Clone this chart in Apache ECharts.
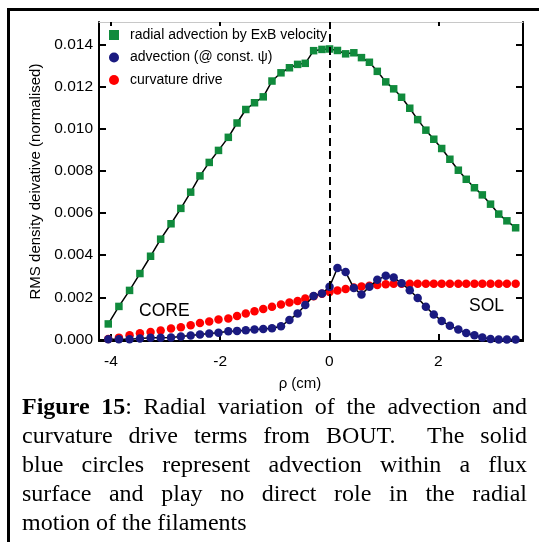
<!DOCTYPE html>
<html>
<head>
<meta charset="utf-8">
<script src="https://cdn.jsdelivr.net/npm/echarts@6/dist/echarts.min.js"></script>
<style>
  html, body { margin: 0; padding: 0; background: #fff; overflow: hidden; }
  #chart { position: absolute; left: 0; top: 0; width: 539px; height: 542px; }
  #caption { position: absolute; left: 22px; top: 392px; width: 505px;
    font-family: 'Liberation Serif', 'Times New Roman', serif; font-size: 24px; line-height: 29px; color: #000; }
  #caption div { text-align: justify; text-align-last: justify; white-space: nowrap; }
  #caption div.last { text-align-last: left; }
</style>
</head>
<body>
<div id="chart"></div>
<div id="caption">
  <div><b>Figure 15</b>: Radial variation of the advection and</div>
  <div>curvature drive terms from BOUT.&nbsp; The solid</div>
  <div>blue circles represent advection within a flux</div>
  <div>surface and play no direct role in the radial</div>
  <div class="last">motion of the filaments</div>
</div>
<script>
// rho (cm) sample positions shared by all series
const rho = [-4.05, -3.855, -3.66, -3.47, -3.275, -3.09, -2.90, -2.72, -2.54, -2.37, -2.20, -2.03,
  -1.85, -1.69, -1.53, -1.37, -1.21, -1.05, -0.885, -0.73, -0.58, -0.44, -0.287, -0.134,
  0.005, 0.15, 0.30, 0.45, 0.59, 0.735, 0.88, 1.035, 1.18, 1.325, 1.475, 1.62,
  1.77, 1.915, 2.06, 2.21, 2.365, 2.51, 2.66, 2.805, 2.955, 3.105, 3.255, 3.415];
// radial advection by ExB velocity
const exbAdvection = [0.00074, 0.00157, 0.00233, 0.00313, 0.00395, 0.00476, 0.00549, 0.00622, 0.00699, 0.00776, 0.00840, 0.00897,
  0.00959, 0.01027, 0.01091, 0.01123, 0.01151, 0.01226, 0.01265, 0.01289, 0.01305, 0.01310, 0.01370, 0.01376,
  0.01378, 0.01371, 0.01355, 0.01360, 0.01337, 0.01315, 0.01272, 0.01222, 0.01189, 0.01149, 0.01097, 0.01043,
  0.00993, 0.00950, 0.00906, 0.00855, 0.00803, 0.00760, 0.00720, 0.00686, 0.00642, 0.00595, 0.00563, 0.00530];
// advection (@ const. psi)
const constPsiAdvection = [0.00001, 0.00001, 0.00001, 0.00005, 0.00008, 0.00008, 0.00010, 0.00014, 0.00019, 0.00024, 0.00028, 0.00032,
  0.00039, 0.00041, 0.00044, 0.00047, 0.00050, 0.00053, 0.00063, 0.00093, 0.00124, 0.00164, 0.00206, 0.00218,
  0.00250, 0.00339, 0.00320, 0.00244, 0.00214, 0.00250, 0.00283, 0.00302, 0.00294, 0.00267, 0.00234, 0.00197,
  0.00155, 0.00119, 0.00088, 0.00065, 0.00047, 0.00031, 0.00020, 0.00010, 0.00002, 0.00000, 0.00000, 0.00000];
// curvature drive
const curvatureDrive = [0.00003, 0.00009, 0.00020, 0.00030, 0.00036, 0.00043, 0.00052, 0.00058, 0.00068, 0.00078, 0.00086, 0.00095,
  0.00100, 0.00112, 0.00123, 0.00134, 0.00145, 0.00155, 0.00166, 0.00176, 0.00183, 0.00195, 0.00205, 0.00217,
  0.00226, 0.00233, 0.00240, 0.00247, 0.00251, 0.00255, 0.00259, 0.00262, 0.00264, 0.00265, 0.00265, 0.00265,
  0.00265, 0.00265, 0.00265, 0.00265, 0.00265, 0.00265, 0.00265, 0.00265, 0.00265, 0.00265, 0.00265, 0.00265];
const xTicks = [-4, -2, 0, 2];
const yTicks = [0, 0.002, 0.004, 0.006, 0.008, 0.010, 0.012, 0.014];
const seriesNames = ['radial advection by ExB velocity', 'advection (@ const. \u03c8)', 'curvature drive'];

const pairs = ys => rho.map((x, i) => [x, ys[i]]);
const FONT = "'Liberation Sans', Arial, sans-serif";
const GREEN = '#108a3c', BLUE = '#1a1a80', RED = '#ff0000';

const xRange = { min: -4.22, max: 3.55 };
const yRange = { min: -0.00007, max: 0.01506 };

const chart = echarts.init(document.getElementById('chart'));
chart.setOption({
  animation: false,
  textStyle: { fontFamily: FONT },
  grid: { left: 99, right: 16, top: 22, bottom: 201 },
  legend: {
    orient: 'vertical', left: 109, top: 28, padding: 0,
    itemWidth: 10, itemHeight: 10, itemGap: 8.5,
    textStyle: { fontSize: 14, color: '#000', fontFamily: FONT, padding: [0, 0, 0, 6] },
    data: [
      { name: seriesNames[0], icon: 'rect' },
      { name: seriesNames[1], icon: 'circle' },
      { name: seriesNames[2], icon: 'circle' }
    ]
  },
  xAxis: [{
    type: 'value', position: 'bottom', ...xRange,
    axisLine: { show: true, onZero: false, lineStyle: { color: '#000', width: 2 } },
    axisTick: { show: true, inside: true, length: 7, customValues: xTicks, lineStyle: { color: '#000', width: 2 } },
    axisLabel: { customValues: xTicks, color: '#000', fontSize: 15.5, margin: 13, fontFamily: FONT },
    splitLine: { show: false },
    name: '\u03c1 (cm)', nameLocation: 'middle', nameGap: 35,
    nameTextStyle: { color: '#000', fontSize: 15, fontFamily: FONT, padding: [0, 22, 0, 0] }
  }, {
    type: 'value', position: 'top', ...xRange,
    axisLine: { show: true, onZero: false, lineStyle: { color: '#c8c8c8', width: 1 } },
    axisTick: { show: true, inside: true, length: 4, customValues: xTicks, lineStyle: { color: '#000', width: 2 } },
    axisLabel: { show: false }, splitLine: { show: false }
  }],
  yAxis: [{
    type: 'value', position: 'left', ...yRange,
    axisLine: { show: true, onZero: false, lineStyle: { color: '#000', width: 2 } },
    axisTick: { show: true, inside: true, length: 7, customValues: yTicks, lineStyle: { color: '#000', width: 2 } },
    axisLabel: { customValues: yTicks, color: '#000', fontSize: 15.5, margin: 6, fontFamily: FONT,
      formatter: v => v.toFixed(3) },
    splitLine: { show: false },
    name: 'RMS density deivative (normalised)', nameLocation: 'middle', nameGap: 48,
    nameTextStyle: { color: '#000', fontSize: 15, fontFamily: FONT }
  }, {
    type: 'value', position: 'right', ...yRange,
    axisLine: { show: true, onZero: false, lineStyle: { color: '#000', width: 2 } },
    axisTick: { show: true, inside: true, length: 7, customValues: yTicks, lineStyle: { color: '#000', width: 2 } },
    axisLabel: { show: false }, splitLine: { show: false }
  }],
  series: [{
    name: seriesNames[2], type: 'scatter', xAxisIndex: 0, yAxisIndex: 0,
    symbol: 'circle', symbolSize: 8.5, itemStyle: { color: RED, opacity: 1 },
    data: pairs(curvatureDrive), z: 2
  }, {
    name: seriesNames[1], type: 'line', xAxisIndex: 0, yAxisIndex: 0,
    symbol: 'circle', symbolSize: 8.5, showAllSymbol: true,
    itemStyle: { color: BLUE, borderWidth: 0, opacity: 1 }, lineStyle: { color: '#000', width: 1.5 },
    data: pairs(constPsiAdvection), z: 3
  }, {
    name: seriesNames[0], type: 'line', xAxisIndex: 0, yAxisIndex: 0,
    symbol: 'rect', symbolSize: 7.5, showAllSymbol: true,
    itemStyle: { color: GREEN, borderWidth: 0, opacity: 1 }, lineStyle: { color: '#000', width: 1.5 },
    data: pairs(exbAdvection), z: 4,
    markLine: {
      silent: true, symbol: 'none', label: { show: false }, animation: false,
      lineStyle: { color: '#000', type: [8, 5], width: 2 },
      data: [{ xAxis: 0 }]
    }
  }],
  graphic: [
    { type: 'rect', silent: true, z: 100, shape: { x: 8.5, y: 9.5, width: 700, height: 700 },
      style: { fill: 'none', stroke: '#000', lineWidth: 3 } },
    { type: 'text', silent: true, z: 50, style: { text: 'CORE', x: 139, y: 311, fill: '#000',
      font: "17.5px 'Liberation Sans', Arial, sans-serif", align: 'left', verticalAlign: 'middle' } },
    { type: 'text', silent: true, z: 50, style: { text: 'SOL', x: 469, y: 306, fill: '#000',
      font: "17.5px 'Liberation Sans', Arial, sans-serif", align: 'left', verticalAlign: 'middle' } }
  ]
});
</script>
</body>
</html>
